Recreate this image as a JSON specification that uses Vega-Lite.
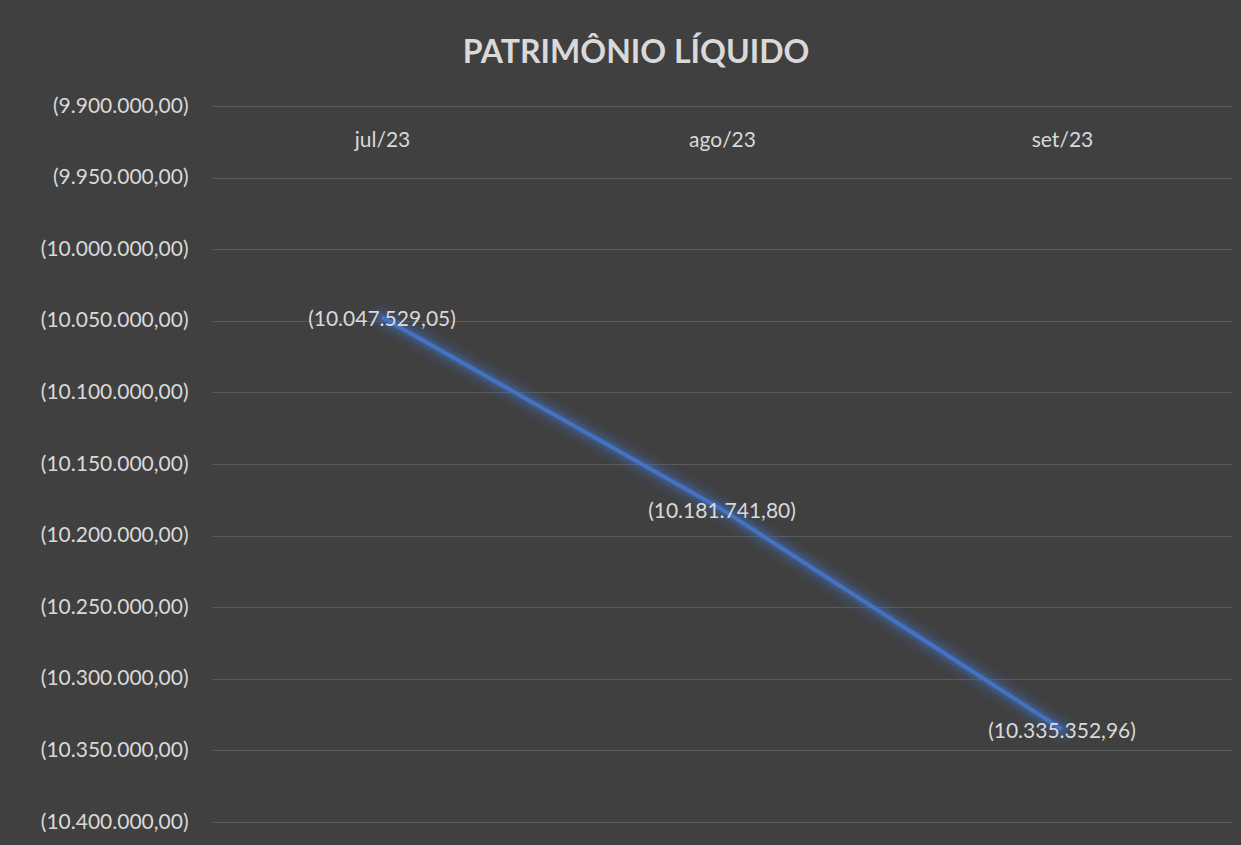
{
  "$schema": "https://vega.github.io/schema/vega-lite/v6.json",
  "width": 1020,
  "height": 716,
  "autosize": {"type": "none"},
  "padding": {"left": 212, "top": 106, "right": 9, "bottom": 23},
  "background": "#404040",
  "config": {
    "locale": {"number": {"decimal": ",", "thousands": ".", "grouping": [3], "currency": ["R$", ""]}},
    "view": {"stroke": null},
    "font": "Lato"
  },
  "title": {
    "text": "PATRIMÔNIO LÍQUIDO",
    "font": "Lato",
    "fontSize": 32,
    "fontWeight": "bold",
    "color": "#d9d9d9",
    "anchor": "middle",
    "dx": -86,
    "baseline": "alphabetic",
    "offset": 0
  },
  "data": {
    "values": [
      {"mes": "jul/23", "valor": -10047529.05},
      {"mes": "ago/23", "valor": -10181741.80},
      {"mes": "set/23", "valor": -10335352.96}
    ]
  },
  "encoding": {
    "x": {
      "field": "mes",
      "type": "ordinal",
      "sort": null,
      "scale": {"type": "point", "padding": 0.5},
      "axis": {
        "orient": "top",
        "title": null,
        "ticks": false,
        "domain": false,
        "labelAngle": 0,
        "labelBaseline": "middle",
        "labelPadding": -34,
        "labelFont": "Lato",
        "labelFontSize": 21,
        "labelColor": "#d9d9d9",
        "grid": false
      }
    },
    "y": {
      "field": "valor",
      "type": "quantitative",
      "scale": {"domain": [-10400000, -9900000], "nice": false, "zero": false},
      "axis": {
        "title": null,
        "format": "(,.2f",
        "values": [-9900000, -9950000, -10000000, -10050000, -10100000, -10150000, -10200000, -10250000, -10300000, -10350000, -10400000],
        "ticks": false,
        "domain": false,
        "labelPadding": 24,
        "labelFont": "Lato",
        "labelFontSize": 21,
        "labelColor": "#d9d9d9",
        "grid": true,
        "gridColor": "#5a5a5a",
        "gridWidth": 1.2
      }
    }
  },
  "layer": [
    {"mark": {"type": "line", "color": "#4472c4", "strokeWidth": 28, "opacity": 0.07, "strokeCap": "round"}},
    {"mark": {"type": "line", "color": "#4472c4", "strokeWidth": 20, "opacity": 0.12, "strokeCap": "round"}},
    {"mark": {"type": "line", "color": "#4472c4", "strokeWidth": 13, "opacity": 0.18, "strokeCap": "round"}},
    {"mark": {"type": "line", "color": "#4472c4", "strokeWidth": 8, "opacity": 0.22, "strokeCap": "round"}},
    {"mark": {"type": "line", "color": "#4472c4", "strokeWidth": 4}},
    {
      "mark": {"type": "text", "font": "Lato", "fontSize": 21, "color": "#d9d9d9", "baseline": "middle", "align": "center", "dy": 3},
      "encoding": {"text": {"field": "valor", "type": "quantitative", "format": "(,.2f"}}
    }
  ]
}
